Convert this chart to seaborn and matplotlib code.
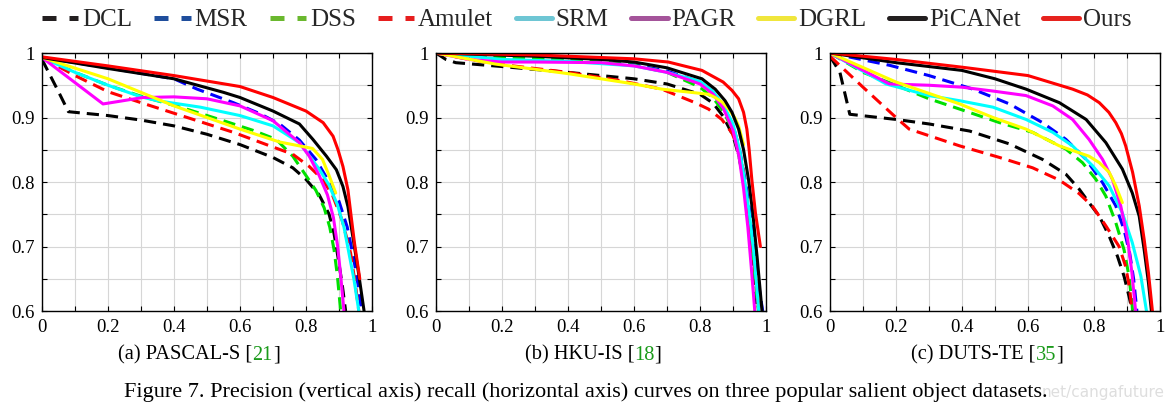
import numpy as np
import pandas as pd
import matplotlib
matplotlib.use("Agg")
import matplotlib.pyplot as plt
from matplotlib.lines import Line2D
import seaborn as sns

sns.set_style("ticks")
plt.rcParams['font.family'] = ['Liberation Serif', 'DejaVu Serif']

methods = ['DCL', 'MSR', 'DSS', 'Amulet', 'SRM', 'PAGR', 'DGRL', 'PiCANet', 'Ours']
dashed = ['DCL', 'MSR', 'DSS', 'Amulet']
line_colors = ['#000000', '#0000ff', '#00e000', '#ff0000', '#00ffff',
               '#ff00ff', '#ffff00', '#000000', '#ff0000']
legend_colors = ['#231f20', '#1f4e9c', '#6ab82e', '#e61e1e', '#6ec6d4',
                 '#a4549a', '#f0e63c', '#231f20', '#e6231e']

# (recall, precision) points
# --- PASCAL-S
pascal_dcl = [(0, 0.99), (0.02, 0.97), (0.05, 0.94), (0.08, 0.909), (0.2, 0.903), (0.3, 0.896),
              (0.4, 0.887), (0.5, 0.874), (0.6, 0.858), (0.7, 0.838), (0.76, 0.822), (0.8, 0.804),
              (0.84, 0.78), (0.87, 0.75), (0.885, 0.72), (0.898, 0.68), (0.91, 0.64), (0.92, 0.6)]
pascal_msr = [(0, 0.993), (0.2, 0.977), (0.4, 0.96), (0.47, 0.944), (0.58, 0.923), (0.66, 0.906),
              (0.72, 0.89), (0.78, 0.865), (0.83, 0.835), (0.87, 0.8), (0.9, 0.77), (0.925, 0.73),
              (0.945, 0.68), (0.958, 0.64), (0.968, 0.6)]
pascal_dss = [(0, 0.993), (0.1, 0.97), (0.2, 0.95), (0.3, 0.933), (0.42, 0.916), (0.55, 0.895),
              (0.64, 0.88), (0.71, 0.866), (0.76, 0.84), (0.8, 0.81), (0.83, 0.787), (0.855, 0.76),
              (0.872, 0.73), (0.885, 0.695), (0.895, 0.655), (0.905, 0.6)]
pascal_amulet = [(0, 0.993), (0.1, 0.965), (0.2, 0.94), (0.3, 0.923), (0.44, 0.9), (0.58, 0.877),
                 (0.68, 0.858), (0.76, 0.843), (0.81, 0.824), (0.85, 0.804), (0.88, 0.78),
                 (0.91, 0.74), (0.935, 0.69), (0.95, 0.64), (0.96, 0.6)]
pascal_srm = [(0, 0.993), (0.1, 0.97), (0.2, 0.95), (0.3, 0.932), (0.35, 0.926), (0.48, 0.916),
              (0.6, 0.903), (0.7, 0.887), (0.78, 0.861), (0.84, 0.82), (0.87, 0.795), (0.895, 0.765),
              (0.915, 0.73), (0.93, 0.69), (0.945, 0.65), (0.96, 0.6)]
pascal_pagr = [(0, 0.993), (0.185, 0.921), (0.306, 0.931), (0.4, 0.932), (0.5, 0.929), (0.6, 0.918),
               (0.7, 0.895), (0.78, 0.861), (0.81, 0.84), (0.84, 0.81), (0.865, 0.78), (0.883, 0.745),
               (0.896, 0.7), (0.906, 0.65), (0.915, 0.6)]
pascal_dgrl = [(0, 0.993), (0.2, 0.96), (0.4, 0.918), (0.6, 0.882), (0.72, 0.862), (0.82, 0.852),
               (0.85, 0.835), (0.87, 0.81), (0.89, 0.783)]
pascal_picanet = [(0, 0.993), (0.2, 0.976), (0.4, 0.96), (0.55, 0.939), (0.6, 0.931), (0.7, 0.91),
                  (0.78, 0.89), (0.821, 0.866), (0.862, 0.84), (0.892, 0.819), (0.912, 0.793),
                  (0.927, 0.762), (0.942, 0.715), (0.958, 0.663), (0.976, 0.6)]
pascal_ours = [(0, 0.994), (0.2, 0.98), (0.4, 0.965), (0.6, 0.948), (0.7, 0.931), (0.8, 0.91),
               (0.852, 0.892), (0.882, 0.871), (0.897, 0.85), (0.912, 0.824), (0.927, 0.788),
               (0.937, 0.746), (0.947, 0.705), (0.963, 0.65)]

# --- HKU-IS
hku_dcl = [(0, 1.0), (0.03, 0.99), (0.06, 0.985), (0.2, 0.979), (0.4, 0.97), (0.6, 0.96),
           (0.7, 0.952), (0.8, 0.936), (0.84, 0.922), (0.87, 0.902), (0.9, 0.872), (0.918, 0.84),
           (0.93, 0.809), (0.94, 0.77), (0.95, 0.72), (0.96, 0.66), (0.97, 0.6)]
hku_msr = [(0, 1.0), (0.2, 0.992), (0.4, 0.988), (0.6, 0.982), (0.7, 0.972), (0.8, 0.955),
           (0.84, 0.94), (0.87, 0.918), (0.9, 0.888), (0.92, 0.85), (0.938, 0.8), (0.952, 0.75),
           (0.965, 0.7), (0.978, 0.64), (0.99, 0.6)]
hku_dss = [(0, 1.0), (0.2, 0.993), (0.4, 0.99), (0.6, 0.981), (0.7, 0.97), (0.8, 0.947),
           (0.84, 0.93), (0.87, 0.91), (0.9, 0.88), (0.918, 0.84), (0.932, 0.8), (0.945, 0.75),
           (0.957, 0.7), (0.967, 0.65), (0.977, 0.6)]
hku_amulet = [(0, 1.0), (0.1, 0.99), (0.2, 0.982), (0.4, 0.97), (0.55, 0.958), (0.684, 0.944),
              (0.785, 0.923), (0.826, 0.913), (0.866, 0.897), (0.897, 0.876), (0.917, 0.85),
              (0.93, 0.82), (0.94, 0.78), (0.952, 0.73), (0.965, 0.67), (0.978, 0.6)]
hku_srm = [(0, 1.0), (0.2, 0.99), (0.4, 0.987), (0.6, 0.98), (0.7, 0.97), (0.8, 0.956),
           (0.84, 0.94), (0.87, 0.92), (0.9, 0.89), (0.92, 0.85), (0.936, 0.8), (0.95, 0.75),
           (0.963, 0.69), (0.978, 0.6)]
hku_pagr = [(0, 1.0), (0.1, 0.99), (0.2, 0.986), (0.3, 0.986), (0.5, 0.985), (0.6, 0.98),
            (0.7, 0.97), (0.8, 0.952), (0.84, 0.936), (0.87, 0.915), (0.9, 0.88), (0.918, 0.84),
            (0.932, 0.79), (0.945, 0.73), (0.955, 0.67), (0.966, 0.6)]
hku_dgrl = [(0, 1.0), (0.178, 0.983), (0.4, 0.968), (0.6, 0.952), (0.684, 0.944), (0.826, 0.936),
            (0.846, 0.931), (0.867, 0.924), (0.887, 0.913), (0.905, 0.9), (0.917, 0.887),
            (0.932, 0.858)]
hku_picanet = [(0, 1.0), (0.3, 0.995), (0.5, 0.99), (0.6, 0.986), (0.7, 0.977), (0.806, 0.96),
               (0.846, 0.944), (0.876, 0.926), (0.897, 0.908), (0.917, 0.882), (0.932, 0.85),
               (0.947, 0.804), (0.96, 0.752), (0.973, 0.684), (0.988, 0.6)]
hku_ours = [(0, 1.0), (0.3, 0.997), (0.6, 0.991), (0.704, 0.986), (0.806, 0.973), (0.87, 0.955),
            (0.897, 0.942), (0.917, 0.929), (0.932, 0.908), (0.942, 0.882), (0.949, 0.85),
            (0.957, 0.804), (0.968, 0.752), (0.983, 0.7)]

# --- DUTS-TE
duts_dcl = [(0, 0.995), (0.03, 0.97), (0.06, 0.905), (0.2, 0.897), (0.3, 0.89), (0.423, 0.879),
            (0.544, 0.859), (0.644, 0.835), (0.715, 0.812), (0.755, 0.789), (0.785, 0.768),
            (0.816, 0.747), (0.846, 0.716), (0.871, 0.685), (0.891, 0.654), (0.906, 0.623),
            (0.916, 0.6)]
duts_msr = [(0, 1.0), (0.18, 0.981), (0.3, 0.965), (0.433, 0.944), (0.544, 0.921), (0.644, 0.892),
            (0.715, 0.866), (0.776, 0.835), (0.826, 0.799), (0.866, 0.763), (0.891, 0.726),
            (0.908, 0.69), (0.92, 0.65), (0.93, 0.6)]
duts_dss = [(0, 1.0), (0.1, 0.97), (0.2, 0.95), (0.3, 0.929), (0.393, 0.913), (0.514, 0.892),
            (0.614, 0.877), (0.715, 0.851), (0.765, 0.83), (0.806, 0.804), (0.836, 0.778),
            (0.866, 0.737), (0.891, 0.695), (0.906, 0.654), (0.915, 0.612), (0.917, 0.6)]
duts_amulet = [(0, 0.995), (0.1, 0.947), (0.2, 0.9), (0.24, 0.882), (0.393, 0.856), (0.514, 0.838),
               (0.614, 0.822), (0.695, 0.803), (0.755, 0.782), (0.796, 0.762), (0.836, 0.732),
               (0.876, 0.7), (0.896, 0.669), (0.908, 0.635), (0.915, 0.6)]
duts_srm = [(0, 1.0), (0.17, 0.952), (0.3, 0.934), (0.393, 0.926), (0.494, 0.916), (0.594, 0.897),
            (0.675, 0.877), (0.735, 0.856), (0.796, 0.825), (0.846, 0.794), (0.886, 0.752),
            (0.916, 0.706), (0.942, 0.654), (0.959, 0.6)]
duts_pagr = [(0, 1.0), (0.18, 0.952), (0.3, 0.95), (0.4, 0.947), (0.494, 0.941), (0.594, 0.934),
             (0.675, 0.918), (0.735, 0.897), (0.785, 0.866), (0.826, 0.835), (0.856, 0.804),
             (0.881, 0.763), (0.902, 0.711), (0.915, 0.659), (0.926, 0.6)]
duts_dgrl = [(0, 1.0), (0.2, 0.955), (0.393, 0.921), (0.494, 0.9), (0.594, 0.882), (0.695, 0.856),
             (0.785, 0.84), (0.816, 0.83), (0.846, 0.815), (0.866, 0.794), (0.886, 0.768)]
duts_picanet = [(0, 1.0), (0.2, 0.985), (0.4, 0.973), (0.5, 0.96), (0.594, 0.944), (0.695, 0.923),
                (0.776, 0.897), (0.836, 0.861), (0.886, 0.82), (0.916, 0.783), (0.937, 0.747),
                (0.952, 0.695), (0.965, 0.644), (0.974, 0.6)]
duts_ours = [(0, 1.0), (0.2, 0.99), (0.4, 0.978), (0.6, 0.965), (0.735, 0.944), (0.78, 0.935),
             (0.816, 0.923), (0.845, 0.908), (0.866, 0.892), (0.883, 0.875), (0.896, 0.856),
             (0.917, 0.815), (0.937, 0.763), (0.952, 0.711), (0.965, 0.659), (0.977, 0.6)]

datasets = ['PASCAL-S', 'HKU-IS', 'DUTS-TE']
panel_labels = ['(a) PASCAL-S [', '(b) HKU-IS [', '(c) DUTS-TE [']
refs = ['21', '18', '35']
curves = {
    'PASCAL-S': [pascal_dcl, pascal_msr, pascal_dss, pascal_amulet, pascal_srm,
                 pascal_pagr, pascal_dgrl, pascal_picanet, pascal_ours],
    'HKU-IS': [hku_dcl, hku_msr, hku_dss, hku_amulet, hku_srm,
               hku_pagr, hku_dgrl, hku_picanet, hku_ours],
    'DUTS-TE': [duts_dcl, duts_msr, duts_dss, duts_amulet, duts_srm,
                duts_pagr, duts_dgrl, duts_picanet, duts_ours],
}

rows = []
for ds in datasets:
    for m, pts in zip(methods, curves[ds]):
        for i, (r, p) in enumerate(pts):
            rows.append({'dataset': ds, 'method': m, 'idx': i, 'recall': r, 'precision': p})
df = pd.DataFrame(rows)

palette = dict(zip(methods, line_colors))
dashes = {m: ((4, 2.3) if m in dashed else '') for m in methods}

W, H = 1171, 411
fig = plt.figure(figsize=(W / 100, H / 100), dpi=100)
lefts = [42, 436, 830]
axes = [fig.add_axes([l / W, 1 - 311 / H, 330 / W, 258 / H]) for l in lefts]

xticks = np.round(np.arange(0, 1.01, 0.1), 2)
xlabels = ['0', '', '0.2', '', '0.4', '', '0.6', '', '0.8', '', '1']
yticks = np.round(np.arange(0.6, 1.001, 0.05), 2)
ylabels = ['0.6', '', '0.7', '', '0.8', '', '0.9', '', '1']

for ax, ds in zip(axes, datasets):
    sub = df[df['dataset'] == ds]
    sns.lineplot(data=sub, x='recall', y='precision', hue='method', style='method',
                 hue_order=methods, style_order=methods, palette=palette, dashes=dashes,
                 units='method', estimator=None, sort=False, legend=False,
                 linewidth=2.2, ax=ax)
    ax.set_xlim(0, 1)
    ax.set_ylim(0.6, 1)
    ax.set_xticks(xticks)
    ax.set_xticklabels(xlabels)
    ax.set_yticks(yticks)
    ax.set_yticklabels(ylabels)
    ax.set_xlabel('')
    ax.set_ylabel('')
    ax.grid(True, color='#d6d6d6', linewidth=0.8)
    ax.set_axisbelow(True)
    ax.tick_params(direction='in', top=True, right=True, length=3.5, width=0.8,
                   labelsize=13.5, colors='black')
    ax.tick_params(axis='x', pad=6)
    ax.tick_params(axis='y', pad=5)
    for s in ax.spines.values():
        s.set_color('black')
        s.set_linewidth(1.0)

# legend with the thicker, slightly different coloured handles of the original
handles = []
for m, c in zip(methods, legend_colors):
    ls = (0, (2.8, 2.6)) if m in dashed else '-'
    handles.append(Line2D([], [], color=c, linewidth=3.6, linestyle=ls))
fig.legend(handles, methods, loc='center', bbox_to_anchor=(0.501, 0.951), ncol=9,
           frameon=False, fontsize=18, handlelength=1.45, handletextpad=0.15,
           columnspacing=0.9, borderaxespad=0)

# sub captions with green reference numbers
fig.canvas.draw()
renderer = fig.canvas.get_renderer()
for l, lab, ref in zip(lefts, panel_labels, refs):
    parts = [(lab, 'black'), (ref, '#1a9a1a'), (']', 'black')]
    texts = [fig.text(0, 1 - 355 / H, s, color=c, fontsize=14.7, va='center') for s, c in parts]
    widths = [t.get_window_extent(renderer).width for t in texts]
    x = l + 157 - sum(widths) / 2
    for t, w in zip(texts, widths):
        t.set_x(x / W)
        x += w

fig.text(1165 / W, 1 - 392 / H, 'net/cangafuture', color='#dedede', fontsize=11,
         family='DejaVu Sans', ha='right', va='center')
fig.text(586 / W, 1 - 392 / H,
         'Figure 7. Precision (vertical axis) recall (horizontal axis) curves on three popular salient object datasets.',
         fontsize=16, ha='center', va='center', color='black')

fig.savefig('out.png', dpi=100)
